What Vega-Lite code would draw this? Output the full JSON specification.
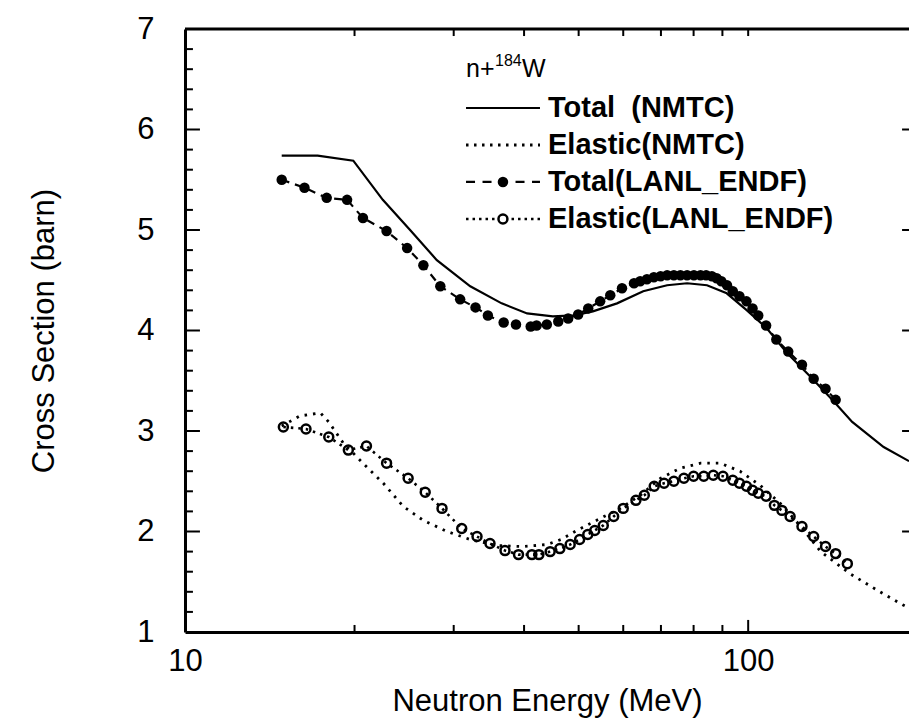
{
  "$schema": "https://vega.github.io/schema/vega-lite/v6.json",
  "width": 724,
  "height": 603,
  "autosize": {"type": "none"},
  "padding": {"left": 185, "top": 29, "right": 0, "bottom": 94},
  "background": "white",
  "config": {
    "view": {"stroke": null},
    "font": "Liberation Sans",
    "axis": {"grid": false, "domainColor": "black", "tickColor": "black", "labelColor": "black", "titleColor": "black", "labelFont": "Liberation Sans", "titleFont": "Liberation Sans", "titleFontWeight": "normal", "labelFontSize": 31, "titleFontSize": 31}
  },
  "datasets": {
    "nmtcTotal": [
      {"E": 14.85, "v": 5.74}, {"E": 17.2, "v": 5.74}, {"E": 19.9, "v": 5.69}, {"E": 22.45, "v": 5.30}, {"E": 25.1, "v": 5.0}, {"E": 28.0, "v": 4.70}, {"E": 32.1, "v": 4.44}, {"E": 36.5, "v": 4.27}, {"E": 40.5, "v": 4.17}, {"E": 45.0, "v": 4.14}, {"E": 49.0, "v": 4.15}, {"E": 53.0, "v": 4.19}, {"E": 58.5, "v": 4.27}, {"E": 65.1, "v": 4.39}, {"E": 71.8, "v": 4.45}, {"E": 77.9, "v": 4.47}, {"E": 84.5, "v": 4.45}, {"E": 91.6, "v": 4.37}, {"E": 99.5, "v": 4.20}, {"E": 108, "v": 4.02}, {"E": 117, "v": 3.78}, {"E": 129, "v": 3.54}, {"E": 141, "v": 3.31}, {"E": 153, "v": 3.09}, {"E": 174, "v": 2.84}, {"E": 193, "v": 2.70}
    ],
    "nmtcElastic": [
      {"E": 14.85, "v": 3.05}, {"E": 16.0, "v": 3.15}, {"E": 17.4, "v": 3.18}, {"E": 18.0, "v": 3.09}, {"E": 19.1, "v": 2.88}, {"E": 20.7, "v": 2.68}, {"E": 22.5, "v": 2.48}, {"E": 24.4, "v": 2.25}, {"E": 26.5, "v": 2.11}, {"E": 29.2, "v": 2.00}, {"E": 32.1, "v": 1.92}, {"E": 35.8, "v": 1.86}, {"E": 39.9, "v": 1.85}, {"E": 43.9, "v": 1.87}, {"E": 46.5, "v": 1.92}, {"E": 49.6, "v": 2.01}, {"E": 54.6, "v": 2.13}, {"E": 59.3, "v": 2.23}, {"E": 64.3, "v": 2.36}, {"E": 69.9, "v": 2.53}, {"E": 75.8, "v": 2.63}, {"E": 82.3, "v": 2.68}, {"E": 89.2, "v": 2.68}, {"E": 96.7, "v": 2.60}, {"E": 105, "v": 2.46}, {"E": 114, "v": 2.28}, {"E": 124, "v": 2.05}, {"E": 134.5, "v": 1.80}, {"E": 151.6, "v": 1.58}, {"E": 169, "v": 1.42}, {"E": 188, "v": 1.27}, {"E": 193, "v": 1.24}
    ],
    "lanlTotal": [
      {"E": 14.85, "v": 5.50}, {"E": 16.3, "v": 5.42}, {"E": 17.85, "v": 5.32}, {"E": 19.4, "v": 5.30}, {"E": 20.7, "v": 5.12}, {"E": 22.8, "v": 4.99}, {"E": 24.8, "v": 4.82}, {"E": 26.5, "v": 4.65}, {"E": 28.4, "v": 4.44}, {"E": 30.8, "v": 4.31}, {"E": 32.8, "v": 4.23}, {"E": 34.5, "v": 4.15}, {"E": 36.8, "v": 4.08}, {"E": 38.7, "v": 4.06}, {"E": 41.1, "v": 4.04}, {"E": 42.1, "v": 4.05}, {"E": 43.9, "v": 4.06}, {"E": 46.0, "v": 4.09}, {"E": 47.9, "v": 4.12}, {"E": 49.9, "v": 4.16}, {"E": 52.0, "v": 4.22}, {"E": 54.6, "v": 4.29}, {"E": 56.9, "v": 4.35}, {"E": 59.7, "v": 4.42}, {"E": 62.7, "v": 4.47}, {"E": 64.3, "v": 4.49}, {"E": 66.1, "v": 4.51}, {"E": 68.0, "v": 4.53}, {"E": 69.9, "v": 4.54}, {"E": 71.8, "v": 4.55}, {"E": 73.8, "v": 4.55}, {"E": 75.8, "v": 4.55}, {"E": 77.9, "v": 4.55}, {"E": 80.1, "v": 4.55}, {"E": 82.3, "v": 4.55}, {"E": 84.2, "v": 4.55}, {"E": 86.2, "v": 4.54}, {"E": 87.9, "v": 4.52}, {"E": 89.6, "v": 4.49}, {"E": 91.7, "v": 4.45}, {"E": 93.9, "v": 4.39}, {"E": 96.5, "v": 4.34}, {"E": 99.3, "v": 4.29}, {"E": 101.8, "v": 4.22}, {"E": 104.2, "v": 4.15}, {"E": 107.6, "v": 4.05}, {"E": 112.2, "v": 3.91}, {"E": 117.8, "v": 3.79}, {"E": 124.6, "v": 3.66}, {"E": 130.7, "v": 3.52}, {"E": 137.2, "v": 3.42}, {"E": 143, "v": 3.31}
    ],
    "lanlElastic": [
      {"E": 14.95, "v": 3.04}, {"E": 16.4, "v": 3.02}, {"E": 18.0, "v": 2.94}, {"E": 19.5, "v": 2.81}, {"E": 21.0, "v": 2.85}, {"E": 22.8, "v": 2.68}, {"E": 24.9, "v": 2.53}, {"E": 26.7, "v": 2.39}, {"E": 28.6, "v": 2.23}, {"E": 31.0, "v": 2.03}, {"E": 33.0, "v": 1.95}, {"E": 34.8, "v": 1.88}, {"E": 37.0, "v": 1.81}, {"E": 39.1, "v": 1.77}, {"E": 41.3, "v": 1.77}, {"E": 42.5, "v": 1.77}, {"E": 44.5, "v": 1.80}, {"E": 46.3, "v": 1.83}, {"E": 48.3, "v": 1.87}, {"E": 50.2, "v": 1.92}, {"E": 51.9, "v": 1.97}, {"E": 53.4, "v": 2.01}, {"E": 55.3, "v": 2.06}, {"E": 57.7, "v": 2.15}, {"E": 60.0, "v": 2.23}, {"E": 63.2, "v": 2.31}, {"E": 65.4, "v": 2.36}, {"E": 68.1, "v": 2.45}, {"E": 70.9, "v": 2.48}, {"E": 73.8, "v": 2.50}, {"E": 76.9, "v": 2.53}, {"E": 80.0, "v": 2.55}, {"E": 83.4, "v": 2.55}, {"E": 86.7, "v": 2.56}, {"E": 90.2, "v": 2.55}, {"E": 93.9, "v": 2.51}, {"E": 96.5, "v": 2.48}, {"E": 99.3, "v": 2.45}, {"E": 101.8, "v": 2.41}, {"E": 104.2, "v": 2.38}, {"E": 107.6, "v": 2.35}, {"E": 111.3, "v": 2.26}, {"E": 114.8, "v": 2.21}, {"E": 118.7, "v": 2.15}, {"E": 124.6, "v": 2.05}, {"E": 130.7, "v": 1.95}, {"E": 137.2, "v": 1.85}, {"E": 143, "v": 1.78}, {"E": 150, "v": 1.68}
    ],
    "legend": [
      {"key": "tn", "label": "Total \u00a0(NMTC)"}, {"key": "en", "label": "Elastic(NMTC)"}, {"key": "tl", "label": "Total(LANL_ENDF)"}, {"key": "el", "label": "Elastic(LANL_ENDF)"}
    ],
    "legendTitle": [{"a": "n+", "b": "184", "c": "W"}]
  },
  "layer": [
    {
      "data": {"name": "nmtcTotal"},
      "mark": {"type": "line", "color": "black", "strokeWidth": 2.2},
      "encoding": {
        "x": {"field": "E", "type": "quantitative", "scale": {"type": "log", "domain": [10, 193], "nice": false},
          "axis": {"orient": "bottom", "values": [10, 100], "format": "d", "ticks": false, "tickSize": 0, "domainWidth": 3, "labelFlush": false, "labelPadding": 14, "title": "Neutron Energy (MeV)", "titlePadding": 10}},
        "y": {"field": "v", "type": "quantitative", "scale": {"domain": [1, 7], "nice": false, "zero": false},
          "axis": {"orient": "left", "values": [1, 2, 3, 4, 5, 6, 7], "format": "d", "ticks": false, "tickSize": 0, "domainWidth": 3, "labelFlush": false, "labelPadding": 31, "title": "Cross Section (barn)", "titlePadding": 76}}
      }
    },
    {
      "data": {"name": "nmtcElastic"},
      "mark": {"type": "line", "color": "black", "strokeWidth": 2.8, "strokeDash": [2.5, 6]},
      "encoding": {
        "x": {"field": "E", "type": "quantitative"},
        "y": {"field": "v", "type": "quantitative"}
      }
    },
    {
      "data": {"name": "lanlTotal"},
      "mark": {"type": "line", "color": "black", "strokeWidth": 2.2, "strokeDash": [8, 6]},
      "encoding": {
        "x": {"field": "E", "type": "quantitative"},
        "y": {"field": "v", "type": "quantitative"}
      }
    },
    {
      "data": {"name": "lanlTotal"},
      "mark": {"type": "point", "filled": true, "color": "black", "size": 110, "opacity": 1},
      "encoding": {
        "x": {"field": "E", "type": "quantitative"},
        "y": {"field": "v", "type": "quantitative"}
      }
    },
    {
      "data": {"name": "lanlElastic"},
      "mark": {"type": "line", "color": "black", "strokeWidth": 2.6, "strokeDash": [2.5, 5]},
      "encoding": {
        "x": {"field": "E", "type": "quantitative"},
        "y": {"field": "v", "type": "quantitative"}
      }
    },
    {
      "data": {"name": "lanlElastic"},
      "mark": {"type": "point", "filled": false, "color": "black", "size": 80, "strokeWidth": 2.5, "opacity": 1},
      "encoding": {
        "x": {"field": "E", "type": "quantitative"},
        "y": {"field": "v", "type": "quantitative"}
      }
    },
    {
      "data": {"name": "legend"},
      "transform": [{"filter": "datum.key == 'tn'"}],
      "layer": [
        {"mark": {"type": "rule", "color": "black", "strokeWidth": 3}, "encoding": {"x": {"datum": 10, "type": "quantitative"}, "x2": {"datum": 193}, "y": {"datum": 7, "type": "quantitative"}}},
        {"mark": {"type": "rule", "color": "black", "strokeWidth": 2}, "encoding": {"x": {"datum": 100, "type": "quantitative"}, "y": {"datum": 1, "type": "quantitative"}, "y2": {"datum": 1.12}}},
        {"mark": {"type": "rule", "color": "black", "strokeWidth": 2}, "encoding": {"x": {"datum": 20, "type": "quantitative"}, "y": {"datum": 1, "type": "quantitative"}, "y2": {"datum": 1.07}}},
        {"mark": {"type": "rule", "color": "black", "strokeWidth": 2}, "encoding": {"x": {"datum": 30, "type": "quantitative"}, "y": {"datum": 1, "type": "quantitative"}, "y2": {"datum": 1.07}}},
        {"mark": {"type": "rule", "color": "black", "strokeWidth": 2}, "encoding": {"x": {"datum": 40, "type": "quantitative"}, "y": {"datum": 1, "type": "quantitative"}, "y2": {"datum": 1.07}}},
        {"mark": {"type": "rule", "color": "black", "strokeWidth": 2}, "encoding": {"x": {"datum": 50, "type": "quantitative"}, "y": {"datum": 1, "type": "quantitative"}, "y2": {"datum": 1.07}}},
        {"mark": {"type": "rule", "color": "black", "strokeWidth": 2}, "encoding": {"x": {"datum": 60, "type": "quantitative"}, "y": {"datum": 1, "type": "quantitative"}, "y2": {"datum": 1.07}}},
        {"mark": {"type": "rule", "color": "black", "strokeWidth": 2}, "encoding": {"x": {"datum": 70, "type": "quantitative"}, "y": {"datum": 1, "type": "quantitative"}, "y2": {"datum": 1.07}}},
        {"mark": {"type": "rule", "color": "black", "strokeWidth": 2}, "encoding": {"x": {"datum": 80, "type": "quantitative"}, "y": {"datum": 1, "type": "quantitative"}, "y2": {"datum": 1.07}}},
        {"mark": {"type": "rule", "color": "black", "strokeWidth": 2}, "encoding": {"x": {"datum": 90, "type": "quantitative"}, "y": {"datum": 1, "type": "quantitative"}, "y2": {"datum": 1.07}}},
        {"mark": {"type": "rule", "color": "black", "strokeWidth": 2}, "encoding": {"x": {"datum": 20, "type": "quantitative"}, "y": {"datum": 7, "type": "quantitative"}, "y2": {"datum": 6.93}}},
        {"mark": {"type": "rule", "color": "black", "strokeWidth": 2}, "encoding": {"x": {"datum": 30, "type": "quantitative"}, "y": {"datum": 7, "type": "quantitative"}, "y2": {"datum": 6.93}}},
        {"mark": {"type": "rule", "color": "black", "strokeWidth": 2}, "encoding": {"x": {"datum": 40, "type": "quantitative"}, "y": {"datum": 7, "type": "quantitative"}, "y2": {"datum": 6.93}}},
        {"mark": {"type": "rule", "color": "black", "strokeWidth": 2}, "encoding": {"x": {"datum": 50, "type": "quantitative"}, "y": {"datum": 7, "type": "quantitative"}, "y2": {"datum": 6.93}}},
        {"mark": {"type": "rule", "color": "black", "strokeWidth": 2}, "encoding": {"x": {"datum": 60, "type": "quantitative"}, "y": {"datum": 7, "type": "quantitative"}, "y2": {"datum": 6.93}}},
        {"mark": {"type": "rule", "color": "black", "strokeWidth": 2}, "encoding": {"x": {"datum": 70, "type": "quantitative"}, "y": {"datum": 7, "type": "quantitative"}, "y2": {"datum": 6.93}}},
        {"mark": {"type": "rule", "color": "black", "strokeWidth": 2}, "encoding": {"x": {"datum": 80, "type": "quantitative"}, "y": {"datum": 7, "type": "quantitative"}, "y2": {"datum": 6.93}}},
        {"mark": {"type": "rule", "color": "black", "strokeWidth": 2}, "encoding": {"x": {"datum": 90, "type": "quantitative"}, "y": {"datum": 7, "type": "quantitative"}, "y2": {"datum": 6.93}}},
        {"mark": {"type": "rule", "color": "black", "strokeWidth": 2}, "encoding": {"x": {"datum": 100, "type": "quantitative"}, "y": {"datum": 7, "type": "quantitative"}, "y2": {"datum": 6.93}}},
        {"mark": {"type": "rule", "color": "black", "strokeWidth": 2}, "encoding": {"x": {"datum": 10, "type": "quantitative"}, "x2": {"datum": 10.63}, "y": {"datum": 2, "type": "quantitative"}}},
        {"mark": {"type": "rule", "color": "black", "strokeWidth": 2}, "encoding": {"x": {"datum": 10, "type": "quantitative"}, "x2": {"datum": 10.63}, "y": {"datum": 3, "type": "quantitative"}}},
        {"mark": {"type": "rule", "color": "black", "strokeWidth": 2}, "encoding": {"x": {"datum": 10, "type": "quantitative"}, "x2": {"datum": 10.63}, "y": {"datum": 4, "type": "quantitative"}}},
        {"mark": {"type": "rule", "color": "black", "strokeWidth": 2}, "encoding": {"x": {"datum": 10, "type": "quantitative"}, "x2": {"datum": 10.63}, "y": {"datum": 5, "type": "quantitative"}}},
        {"mark": {"type": "rule", "color": "black", "strokeWidth": 2}, "encoding": {"x": {"datum": 10, "type": "quantitative"}, "x2": {"datum": 10.63}, "y": {"datum": 6, "type": "quantitative"}}},
        {"mark": {"type": "rule", "color": "black", "strokeWidth": 2}, "encoding": {"x": {"datum": 10, "type": "quantitative"}, "x2": {"datum": 10.33}, "y": {"datum": 1.2, "type": "quantitative"}}},
        {"mark": {"type": "rule", "color": "black", "strokeWidth": 2}, "encoding": {"x": {"datum": 10, "type": "quantitative"}, "x2": {"datum": 10.33}, "y": {"datum": 1.4, "type": "quantitative"}}},
        {"mark": {"type": "rule", "color": "black", "strokeWidth": 2}, "encoding": {"x": {"datum": 10, "type": "quantitative"}, "x2": {"datum": 10.33}, "y": {"datum": 1.6, "type": "quantitative"}}},
        {"mark": {"type": "rule", "color": "black", "strokeWidth": 2}, "encoding": {"x": {"datum": 10, "type": "quantitative"}, "x2": {"datum": 10.33}, "y": {"datum": 1.8, "type": "quantitative"}}},
        {"mark": {"type": "rule", "color": "black", "strokeWidth": 2}, "encoding": {"x": {"datum": 10, "type": "quantitative"}, "x2": {"datum": 10.33}, "y": {"datum": 2.2, "type": "quantitative"}}},
        {"mark": {"type": "rule", "color": "black", "strokeWidth": 2}, "encoding": {"x": {"datum": 10, "type": "quantitative"}, "x2": {"datum": 10.33}, "y": {"datum": 2.4, "type": "quantitative"}}},
        {"mark": {"type": "rule", "color": "black", "strokeWidth": 2}, "encoding": {"x": {"datum": 10, "type": "quantitative"}, "x2": {"datum": 10.33}, "y": {"datum": 2.6, "type": "quantitative"}}},
        {"mark": {"type": "rule", "color": "black", "strokeWidth": 2}, "encoding": {"x": {"datum": 10, "type": "quantitative"}, "x2": {"datum": 10.33}, "y": {"datum": 2.8, "type": "quantitative"}}},
        {"mark": {"type": "rule", "color": "black", "strokeWidth": 2}, "encoding": {"x": {"datum": 10, "type": "quantitative"}, "x2": {"datum": 10.33}, "y": {"datum": 3.2, "type": "quantitative"}}},
        {"mark": {"type": "rule", "color": "black", "strokeWidth": 2}, "encoding": {"x": {"datum": 10, "type": "quantitative"}, "x2": {"datum": 10.33}, "y": {"datum": 3.4, "type": "quantitative"}}},
        {"mark": {"type": "rule", "color": "black", "strokeWidth": 2}, "encoding": {"x": {"datum": 10, "type": "quantitative"}, "x2": {"datum": 10.33}, "y": {"datum": 3.6, "type": "quantitative"}}},
        {"mark": {"type": "rule", "color": "black", "strokeWidth": 2}, "encoding": {"x": {"datum": 10, "type": "quantitative"}, "x2": {"datum": 10.33}, "y": {"datum": 3.8, "type": "quantitative"}}},
        {"mark": {"type": "rule", "color": "black", "strokeWidth": 2}, "encoding": {"x": {"datum": 10, "type": "quantitative"}, "x2": {"datum": 10.33}, "y": {"datum": 4.2, "type": "quantitative"}}},
        {"mark": {"type": "rule", "color": "black", "strokeWidth": 2}, "encoding": {"x": {"datum": 10, "type": "quantitative"}, "x2": {"datum": 10.33}, "y": {"datum": 4.4, "type": "quantitative"}}},
        {"mark": {"type": "rule", "color": "black", "strokeWidth": 2}, "encoding": {"x": {"datum": 10, "type": "quantitative"}, "x2": {"datum": 10.33}, "y": {"datum": 4.6, "type": "quantitative"}}},
        {"mark": {"type": "rule", "color": "black", "strokeWidth": 2}, "encoding": {"x": {"datum": 10, "type": "quantitative"}, "x2": {"datum": 10.33}, "y": {"datum": 4.8, "type": "quantitative"}}},
        {"mark": {"type": "rule", "color": "black", "strokeWidth": 2}, "encoding": {"x": {"datum": 10, "type": "quantitative"}, "x2": {"datum": 10.33}, "y": {"datum": 5.2, "type": "quantitative"}}},
        {"mark": {"type": "rule", "color": "black", "strokeWidth": 2}, "encoding": {"x": {"datum": 10, "type": "quantitative"}, "x2": {"datum": 10.33}, "y": {"datum": 5.4, "type": "quantitative"}}},
        {"mark": {"type": "rule", "color": "black", "strokeWidth": 2}, "encoding": {"x": {"datum": 10, "type": "quantitative"}, "x2": {"datum": 10.33}, "y": {"datum": 5.6, "type": "quantitative"}}},
        {"mark": {"type": "rule", "color": "black", "strokeWidth": 2}, "encoding": {"x": {"datum": 10, "type": "quantitative"}, "x2": {"datum": 10.33}, "y": {"datum": 5.8, "type": "quantitative"}}},
        {"mark": {"type": "rule", "color": "black", "strokeWidth": 2}, "encoding": {"x": {"datum": 10, "type": "quantitative"}, "x2": {"datum": 10.33}, "y": {"datum": 6.2, "type": "quantitative"}}},
        {"mark": {"type": "rule", "color": "black", "strokeWidth": 2}, "encoding": {"x": {"datum": 10, "type": "quantitative"}, "x2": {"datum": 10.33}, "y": {"datum": 6.4, "type": "quantitative"}}},
        {"mark": {"type": "rule", "color": "black", "strokeWidth": 2}, "encoding": {"x": {"datum": 10, "type": "quantitative"}, "x2": {"datum": 10.33}, "y": {"datum": 6.6, "type": "quantitative"}}},
        {"mark": {"type": "rule", "color": "black", "strokeWidth": 2}, "encoding": {"x": {"datum": 10, "type": "quantitative"}, "x2": {"datum": 10.33}, "y": {"datum": 6.8, "type": "quantitative"}}},
        {"mark": {"type": "rule", "color": "black", "strokeWidth": 2}, "encoding": {"x": {"datum": 187.6, "type": "quantitative"}, "x2": {"datum": 193}, "y": {"datum": 2, "type": "quantitative"}}},
        {"mark": {"type": "rule", "color": "black", "strokeWidth": 2}, "encoding": {"x": {"datum": 187.6, "type": "quantitative"}, "x2": {"datum": 193}, "y": {"datum": 3, "type": "quantitative"}}},
        {"mark": {"type": "rule", "color": "black", "strokeWidth": 2}, "encoding": {"x": {"datum": 187.6, "type": "quantitative"}, "x2": {"datum": 193}, "y": {"datum": 4, "type": "quantitative"}}},
        {"mark": {"type": "rule", "color": "black", "strokeWidth": 2}, "encoding": {"x": {"datum": 187.6, "type": "quantitative"}, "x2": {"datum": 193}, "y": {"datum": 5, "type": "quantitative"}}},
        {"mark": {"type": "rule", "color": "black", "strokeWidth": 2}, "encoding": {"x": {"datum": 187.6, "type": "quantitative"}, "x2": {"datum": 193}, "y": {"datum": 6, "type": "quantitative"}}}
      ]
    },
    {
      "data": {"name": "legendTitle"},
      "mark": {"type": "text", "align": "left", "baseline": "alphabetic", "font": "Liberation Sans", "fontSize": 25, "color": "black"},
      "encoding": {
        "x": {"datum": 31.55, "type": "quantitative"},
        "y": {"datum": 6.522, "type": "quantitative"},
        "text": {"field": "a"}
      }
    },
    {
      "data": {"name": "legendTitle"},
      "mark": {"type": "text", "align": "left", "baseline": "alphabetic", "font": "Liberation Sans", "fontSize": 16, "color": "black"},
      "encoding": {
        "x": {"datum": 35.52, "type": "quantitative"},
        "y": {"datum": 6.632, "type": "quantitative"},
        "text": {"field": "b"}
      }
    },
    {
      "data": {"name": "legendTitle"},
      "mark": {"type": "text", "align": "left", "baseline": "alphabetic", "font": "Liberation Sans", "fontSize": 25, "color": "black"},
      "encoding": {
        "x": {"datum": 39.67, "type": "quantitative"},
        "y": {"datum": 6.522, "type": "quantitative"},
        "text": {"field": "c"}
      }
    },
    {
      "data": {"name": "legend"},
      "transform": [{"filter": "datum.key == 'tn'"}],
      "layer": [
        {
          "mark": {"type": "rule", "color": "black", "strokeWidth": 2.2},
          "encoding": {
            "x": {"datum": 31.55, "type": "quantitative"},
            "x2": {"datum": 42.69},
            "y": {"datum": 6.214, "type": "quantitative"}
          }
        },
        {
          "mark": {"type": "text", "align": "left", "baseline": "middle", "font": "Liberation Sans", "fontSize": 29, "fontWeight": "bold", "color": "black"},
          "encoding": {
            "x": {"datum": 44.11, "type": "quantitative"},
            "y": {"datum": 6.214, "type": "quantitative"},
            "text": {"field": "label"}
          }
        }
      ]
    },
    {
      "data": {"name": "legend"},
      "transform": [{"filter": "datum.key == 'en'"}],
      "layer": [
        {
          "mark": {"type": "rule", "color": "black", "strokeWidth": 2.8, "strokeDash": [2.5, 5.5]},
          "encoding": {
            "x": {"datum": 31.55, "type": "quantitative"},
            "x2": {"datum": 42.69},
            "y": {"datum": 5.846, "type": "quantitative"}
          }
        },
        {
          "mark": {"type": "text", "align": "left", "baseline": "middle", "font": "Liberation Sans", "fontSize": 29, "fontWeight": "bold", "color": "black"},
          "encoding": {
            "x": {"datum": 44.11, "type": "quantitative"},
            "y": {"datum": 5.846, "type": "quantitative"},
            "text": {"field": "label"}
          }
        }
      ]
    },
    {
      "data": {"name": "legend"},
      "transform": [{"filter": "datum.key == 'tl'"}],
      "layer": [
        {
          "mark": {"type": "rule", "color": "black", "strokeWidth": 2.2, "strokeDash": [9, 7.5]},
          "encoding": {
            "x": {"datum": 31.55, "type": "quantitative"},
            "x2": {"datum": 42.69},
            "y": {"datum": 5.478, "type": "quantitative"}
          }
        },
        {
          "mark": {"type": "point", "filled": true, "color": "black", "size": 110, "opacity": 1},
          "encoding": {
            "x": {"datum": 36.69, "type": "quantitative"},
            "y": {"datum": 5.478, "type": "quantitative"}
          }
        },
        {
          "mark": {"type": "text", "align": "left", "baseline": "middle", "font": "Liberation Sans", "fontSize": 29, "fontWeight": "bold", "color": "black"},
          "encoding": {
            "x": {"datum": 44.11, "type": "quantitative"},
            "y": {"datum": 5.478, "type": "quantitative"},
            "text": {"field": "label"}
          }
        }
      ]
    },
    {
      "data": {"name": "legend"},
      "transform": [{"filter": "datum.key == 'el'"}],
      "layer": [
        {
          "mark": {"type": "rule", "color": "black", "strokeWidth": 2.6, "strokeDash": [2.5, 4]},
          "encoding": {
            "x": {"datum": 31.55, "type": "quantitative"},
            "x2": {"datum": 42.69},
            "y": {"datum": 5.109, "type": "quantitative"}
          }
        },
        {
          "mark": {"type": "point", "filled": true, "fill": "white", "stroke": "black", "strokeWidth": 2.5, "size": 80, "opacity": 1},
          "encoding": {
            "x": {"datum": 36.69, "type": "quantitative"},
            "y": {"datum": 5.109, "type": "quantitative"}
          }
        },
        {
          "mark": {"type": "text", "align": "left", "baseline": "middle", "font": "Liberation Sans", "fontSize": 29, "fontWeight": "bold", "color": "black"},
          "encoding": {
            "x": {"datum": 44.11, "type": "quantitative"},
            "y": {"datum": 5.109, "type": "quantitative"},
            "text": {"field": "label"}
          }
        }
      ]
    }
  ]
}
